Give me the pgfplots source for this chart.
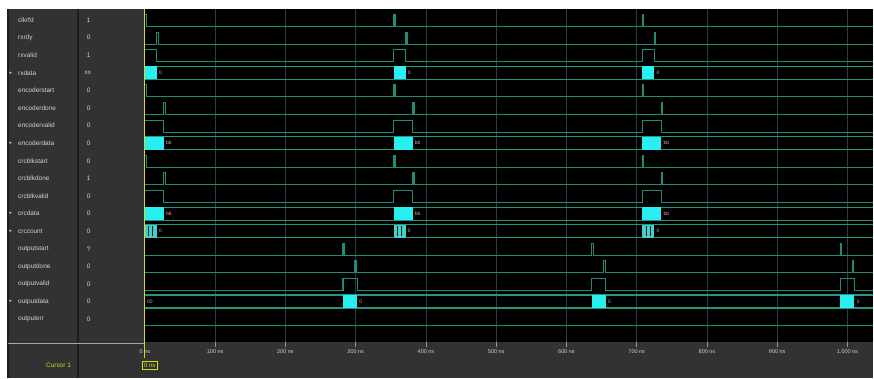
\documentclass[border=0pt]{standalone}
\usepackage{pgfplots}
\pgfplotsset{compat=1.18}
\usepackage{fontspec}
\setmainfont{Liberation Sans}
\newfontfamily\dejavu{DejaVu Sans}
\definecolor{wave}{RGB}{30,140,118}
\definecolor{band}{RGB}{36,150,130}
\definecolor{gridc}{RGB}{38,64,66}
\definecolor{busfill}{RGB}{40,240,240}
\definecolor{hatchfill}{RGB}{70,205,200}
\definecolor{panel}{RGB}{50,50,50}
\definecolor{sepc}{RGB}{28,28,28}
\definecolor{txt}{RGB}{210,210,210}
\definecolor{cur}{RGB}{215,215,40}
\definecolor{vtxt}{RGB}{205,170,170}
\tikzset{
  nm/.style={anchor=west, text=txt, font=\fontsize{6.5}{7}\selectfont, inner sep=0pt},
  vl/.style={anchor=west, text=txt, font=\fontsize{6.5}{7}\selectfont, inner sep=0pt},
  bl/.style={anchor=west, text=vtxt, font=\fontsize{5}{6}\selectfont, inner sep=0pt},
  tl/.style={anchor=center, text=txt, font=\fontsize{5.5}{6}\selectfont, inner sep=0pt},
}
\begin{document}
\begin{tikzpicture}
\begin{axis}[
  width=874bp, height=378bp, scale only axis,
  xmin=-206.26, xmax=1037.0, ymin=0, ymax=378, y dir=reverse,
  axis lines=none, clip=false, unbounded coords=jump,
  every axis plot/.append style={line width=1.1bp},
]
% ---- backgrounds
\addplot[fill=white, draw=none] coordinates {(-206.26,0) (1037,0) (1037,378) (-206.26,378)} --cycle;
\addplot[fill=panel, draw=none] coordinates {(-194.9,9) (1037,9) (1037,378) (-194.9,378)} --cycle;
\addplot[fill=black, draw=none] coordinates {(0,9) (1037,9) (1037,342) (0,342)} --cycle;
% panel separators
\addplot[sepc, line width=1.2bp] coordinates {(-95.3,9) (-95.3,378)};
\addplot[sepc, line width=1.2bp] coordinates {(-194.9,9) (-194.9,378)};
\addplot[gray!70, line width=0.6bp] coordinates {(-194.9,344) (0,344)};
% ---- grid
\addplot[gridc, line width=0.8bp] coordinates {
 (100,9) (100,342) (100,nan) (200,9) (200,342) (200,nan) (300,9) (300,342) (300,nan)
 (400,9) (400,342) (400,nan) (500,9) (500,342) (500,nan) (600,9) (600,342) (600,nan)
 (700,9) (700,342) (700,nan) (800,9) (800,342) (800,nan) (900,9) (900,342) (900,nan)
 (1000,9) (1000,342)};
\addplot[gray!80, line width=0.6bp] coordinates {
 (100,342) (100,347) (100,nan) (200,342) (200,347) (200,nan) (300,342) (300,347) (300,nan)
 (400,342) (400,347) (400,nan) (500,342) (500,347) (500,nan) (600,342) (600,347) (600,nan)
 (700,342) (700,347) (700,nan) (800,342) (800,347) (800,nan) (900,342) (900,347) (900,nan)
 (1000,342) (1000,347)};
% ---- bus bands
\addplot[band] coordinates {(0,66.4) (1037,66.4)};
\addplot[band] coordinates {(0,79.4) (1037,79.4)};
\addplot[band] coordinates {(0,136.8) (1037,136.8)};
\addplot[band] coordinates {(0,149.8) (1037,149.8)};
\addplot[band] coordinates {(0,207.2) (1037,207.2)};
\addplot[band] coordinates {(0,220.2) (1037,220.2)};
\addplot[band] coordinates {(0,224.8) (1037,224.8)};
\addplot[band] coordinates {(0,237.8) (1037,237.8)};
\addplot[band] coordinates {(0,295.2) (1037,295.2)};
\addplot[band] coordinates {(0,308.2) (1037,308.2)};
% ---- 1-bit traces
\addplot[wave] coordinates {(0,14.6) (2,14.6) (2,26.6) (354,26.6) (354,14.6) (356,14.6) (356,26.6) (708,26.6) (708,14.6) (710,14.6) (710,26.6) (1037,26.6)};
\addplot[wave] coordinates {(0,44.2) (17,44.2) (17,32.2) (19,32.2) (19,44.2) (371,44.2) (371,32.2) (373,32.2) (373,44.2) (725,44.2) (725,32.2) (727,32.2) (727,44.2) (1037,44.2)};
\addplot[wave] coordinates {(0,49.8) (17,49.8) (17,61.8) (354,61.8) (354,49.8) (371,49.8) (371,61.8) (708,61.8) (708,49.8) (725,49.8) (725,61.8) (1037,61.8)};
\addplot[wave] coordinates {(0,85) (2,85) (2,97) (354,97) (354,85) (356,85) (356,97) (708,97) (708,85) (710,85) (710,97) (1037,97)};
\addplot[wave] coordinates {(0,114.6) (27,114.6) (27,102.6) (29,102.6) (29,114.6) (381,114.6) (381,102.6) (383,102.6) (383,114.6) (735,114.6) (735,102.6) (737,102.6) (737,114.6) (1037,114.6)};
\addplot[wave] coordinates {(0,120.2) (27,120.2) (27,132.2) (354,132.2) (354,120.2) (381,120.2) (381,132.2) (708,132.2) (708,120.2) (735,120.2) (735,132.2) (1037,132.2)};
\addplot[wave] coordinates {(0,155.4) (2,155.4) (2,167.4) (354,167.4) (354,155.4) (356,155.4) (356,167.4) (708,167.4) (708,155.4) (710,155.4) (710,167.4) (1037,167.4)};
\addplot[wave] coordinates {(0,185) (27,185) (27,173) (29,173) (29,185) (381,185) (381,173) (383,173) (383,185) (735,185) (735,173) (737,173) (737,185) (1037,185)};
\addplot[wave] coordinates {(0,190.6) (27,190.6) (27,202.6) (354,202.6) (354,190.6) (381,190.6) (381,202.6) (708,202.6) (708,190.6) (735,190.6) (735,202.6) (1037,202.6)};
\addplot[wave] coordinates {(0,255.4) (282,255.4) (282,243.4) (284,243.4) (284,255.4) (636,255.4) (636,243.4) (638,243.4) (638,255.4) (990,255.4) (990,243.4) (992,243.4) (992,255.4) (1037,255.4)};
\addplot[wave] coordinates {(0,273) (299,273) (299,261) (301,261) (301,273) (653,273) (653,261) (655,261) (655,273) (1007,273) (1007,261) (1009,261) (1009,273) (1037,273)};
\addplot[wave] coordinates {(0,290.6) (282,290.6) (282,278.6) (302,278.6) (302,290.6) (636,290.6) (636,278.6) (656,278.6) (656,290.6) (990,290.6) (990,278.6) (1010,278.6) (1010,290.6) (1037,290.6)};
\addplot[wave] coordinates {(0,325.8) (1037,325.8)};
% ---- bus value boxes
\addplot[fill=busfill, draw=none] coordinates {(0,66.4) (17,66.4) (17,79.4) (0,79.4)} --cycle;
\addplot[fill=busfill, draw=none] coordinates {(354,66.4) (371,66.4) (371,79.4) (354,79.4)} --cycle;
\addplot[fill=busfill, draw=none] coordinates {(708,66.4) (725,66.4) (725,79.4) (708,79.4)} --cycle;
\addplot[fill=busfill, draw=none] coordinates {(0,136.8) (27,136.8) (27,149.8) (0,149.8)} --cycle;
\addplot[fill=busfill, draw=none] coordinates {(354,136.8) (381,136.8) (381,149.8) (354,149.8)} --cycle;
\addplot[fill=busfill, draw=none] coordinates {(708,136.8) (735,136.8) (735,149.8) (708,149.8)} --cycle;
\addplot[fill=busfill, draw=none] coordinates {(0,207.2) (27,207.2) (27,220.2) (0,220.2)} --cycle;
\addplot[fill=busfill, draw=none] coordinates {(354,207.2) (381,207.2) (381,220.2) (354,220.2)} --cycle;
\addplot[fill=busfill, draw=none] coordinates {(708,207.2) (735,207.2) (735,220.2) (708,220.2)} --cycle;
\addplot[fill=hatchfill, draw=none] coordinates {(0,224.8) (17,224.8) (17,237.8) (0,237.8)} --cycle;
\addplot[fill=hatchfill, draw=none] coordinates {(354,224.8) (371,224.8) (371,237.8) (354,237.8)} --cycle;
\addplot[fill=hatchfill, draw=none] coordinates {(708,224.8) (725,224.8) (725,237.8) (708,237.8)} --cycle;
\addplot[black!70!teal, line width=0.6bp] coordinates {
 (5,226) (5,236.6) (5,nan) (11,226) (11,236.6) (11,nan)
 (359,226) (359,236.6) (359,nan) (365,226) (365,236.6) (365,nan)
 (713,226) (713,236.6) (713,nan) (719,226) (719,236.6)};
\addplot[fill=busfill, draw=none] coordinates {(282,295.2) (302,295.2) (302,308.2) (282,308.2)} --cycle;
\addplot[fill=busfill, draw=none] coordinates {(636,295.2) (656,295.2) (656,308.2) (636,308.2)} --cycle;
\addplot[fill=busfill, draw=none] coordinates {(990,295.2) (1010,295.2) (1010,308.2) (990,308.2)} --cycle;
% ---- bus value labels
\node[bl] at (axis cs:20,72.9) {0};
\node[bl] at (axis cs:374,72.9) {0};
\node[bl] at (axis cs:728,72.9) {0};
\node[bl] at (axis cs:30,143.3) {bb};
\node[bl] at (axis cs:384,143.3) {bb};
\node[bl] at (axis cs:738,143.3) {bb};
\node[bl] at (axis cs:30,213.7) {bb};
\node[bl] at (axis cs:384,213.7) {bb};
\node[bl] at (axis cs:738,213.7) {bb};
\node[bl] at (axis cs:20,231.3) {0};
\node[bl] at (axis cs:374,231.3) {0};
\node[bl] at (axis cs:728,231.3) {0};
\node[bl] at (axis cs:3,301.7) {00};
\node[bl] at (axis cs:305,301.7) {0};
\node[bl] at (axis cs:659,301.7) {0};
\node[bl] at (axis cs:1013,301.7) {0};
% ---- cursor
\addplot[cur, line width=0.9bp] coordinates {(0,9) (0,358)};
% ---- signal names
\node[nm] at (axis cs:-180.7,20.1) {clkrfd};
\node[nm] at (axis cs:-180.7,37.7) {rxrdy};
\node[nm] at (axis cs:-180.7,55.3) {rxvalid};
\node[nm] at (axis cs:-180.7,72.9) {rxdata};
\node[nm] at (axis cs:-180.7,90.5) {encoderstart};
\node[nm] at (axis cs:-180.7,108.1) {encoderdone};
\node[nm] at (axis cs:-180.7,125.7) {encodervalid};
\node[nm] at (axis cs:-180.7,143.3) {encoderdata};
\node[nm] at (axis cs:-180.7,160.9) {crcblkstart};
\node[nm] at (axis cs:-180.7,178.5) {crcblkdone};
\node[nm] at (axis cs:-180.7,196.1) {crcblkvalid};
\node[nm] at (axis cs:-180.7,213.7) {crcdata};
\node[nm] at (axis cs:-180.7,231.3) {crccount};
\node[nm] at (axis cs:-180.7,248.9) {outputstart};
\node[nm] at (axis cs:-180.7,266.5) {outputdone};
\node[nm] at (axis cs:-180.7,284.1) {outputvalid};
\node[nm] at (axis cs:-180.7,301.7) {outputdata};
\node[nm] at (axis cs:-180.7,319.3) {outputerr};
\node[nm, font=\dejavu\fontsize{5}{6}\selectfont] at (axis cs:-193,72.9) {▸};
\node[nm, font=\dejavu\fontsize{5}{6}\selectfont] at (axis cs:-193,143.3) {▸};
\node[nm, font=\dejavu\fontsize{5}{6}\selectfont] at (axis cs:-193,213.7) {▸};
\node[nm, font=\dejavu\fontsize{5}{6}\selectfont] at (axis cs:-193,231.3) {▸};
\node[nm, font=\dejavu\fontsize{5}{6}\selectfont] at (axis cs:-193,301.7) {▸};
% ---- values
\node[vl] at (axis cs:-83,20.1) {1};
\node[vl] at (axis cs:-83,37.7) {0};
\node[vl] at (axis cs:-83,55.3) {1};
\node[vl] at (axis cs:-86,72.9) {xx};
\node[vl] at (axis cs:-83,90.5) {0};
\node[vl] at (axis cs:-83,108.1) {0};
\node[vl] at (axis cs:-83,125.7) {0};
\node[vl] at (axis cs:-83,143.3) {0};
\node[vl] at (axis cs:-83,160.9) {0};
\node[vl] at (axis cs:-83,178.5) {1};
\node[vl] at (axis cs:-83,196.1) {0};
\node[vl] at (axis cs:-83,213.7) {0};
\node[vl] at (axis cs:-83,231.3) {0};
\node[vl] at (axis cs:-83,248.9) {?};
\node[vl] at (axis cs:-83,266.5) {0};
\node[vl] at (axis cs:-83,284.1) {0};
\node[vl] at (axis cs:-83,301.7) {0};
\node[vl] at (axis cs:-83,319.3) {0};
% ---- time labels
\node[tl] at (axis cs:0,352) {0 ns};
\node[tl] at (axis cs:100,352) {100 ns};
\node[tl] at (axis cs:200,352) {200 ns};
\node[tl] at (axis cs:300,352) {300 ns};
\node[tl] at (axis cs:400,352) {400 ns};
\node[tl] at (axis cs:500,352) {500 ns};
\node[tl] at (axis cs:600,352) {600 ns};
\node[tl] at (axis cs:700,352) {700 ns};
\node[tl] at (axis cs:800,352) {800 ns};
\node[tl] at (axis cs:900,352) {900 ns};
\node[tl] at (axis cs:1000,352) {1,000 ns};
% ---- cursor labels
\node[anchor=center, text=cur, font=\fontsize{6.5}{7}\selectfont, inner sep=0pt] at (axis cs:-123,365.5) {Cursor 1};
\node[anchor=center, text=cur, draw=cur, line width=0.7bp, fill=panel, font=\fontsize{6}{7}\selectfont, inner sep=1.6pt] at (axis cs:7,365.5) {0 ns};
\end{axis}
\end{tikzpicture}
\end{document}
